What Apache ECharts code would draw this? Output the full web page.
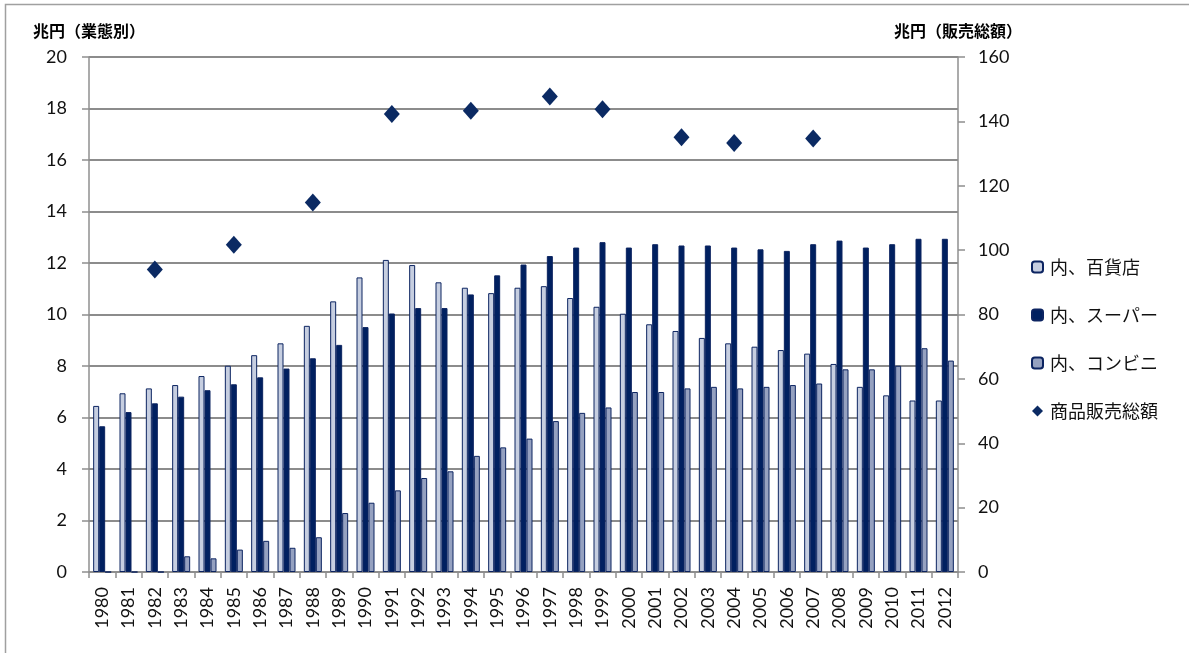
<!DOCTYPE html>
<html>
<head>
<meta charset="utf-8">
<script src="https://cdn.jsdelivr.net/npm/echarts@6/dist/echarts.min.js"></script>
<style>
html,body{margin:0;padding:0;background:#fff;}
#chart{width:1189px;height:653px;}
</style>
</head>
<body>
<div id="chart"></div>
<script>
const years = ['1980','1981','1982','1983','1984','1985','1986','1987','1988','1989','1990','1991','1992','1993','1994','1995','1996','1997','1998','1999','2000','2001','2002','2003','2004','2005','2006','2007','2008','2009','2010','2011','2012'];
const department = [6.45,6.94,7.13,7.26,7.61,8.01,8.42,8.88,9.56,10.51,11.44,12.12,11.92,11.25,11.04,10.83,11.04,11.10,10.64,10.30,10.03,9.62,9.36,9.09,8.88,8.75,8.62,8.48,8.08,7.19,6.86,6.66,6.66];
const supermarket = [5.66,6.21,6.55,6.81,7.06,7.29,7.56,7.90,8.30,8.82,9.51,10.04,10.25,10.25,10.78,11.52,11.94,12.27,12.60,12.81,12.60,12.73,12.68,12.68,12.60,12.53,12.47,12.73,12.87,12.60,12.73,12.94,12.94];
const convenience = [0,0,0,0.61,0.53,0.87,1.21,0.94,1.35,2.29,2.69,3.17,3.65,3.91,4.51,4.84,5.18,5.86,6.18,6.39,6.99,6.99,7.13,7.19,7.13,7.19,7.26,7.32,7.87,7.87,8.01,8.69,8.21];
const totalSales = [null,null,94.0,null,null,101.7,null,null,114.8,null,null,142.3,null,null,143.3,null,null,147.7,null,143.8,null,null,135.1,null,133.3,null,null,134.7,null,null,null,null,null];
const leftTicks = {min:0, max:20, interval:2};
const rightTicks = {min:0, max:160, interval:20};
const seriesNames = ['内、百貨店','内、スーパー','内、コンビニ','商品販売総額'];

const numFont = 'Lato, "Noto Sans CJK JP", sans-serif';
const jpFont = '"Noto Sans CJK JP", sans-serif';
const navy = '#0c2461';
const gray = '#8f8f8f';

const chart = echarts.init(document.getElementById('chart'), null, {renderer:'canvas'});
chart.setOption({
  animation:false,
  backgroundColor:'#fff',
  graphic:[{
    type:'rect', silent:true, z:-1,
    shape:{x:5.5,y:4.5,width:1400,height:900},
    style:{fill:'none',stroke:'#a0a0a0',lineWidth:1.5}
  }],
  grid:{left:89,right:231,top:57,bottom:81,containLabel:false},
  legend:{
    orient:'vertical', left:1026, top:253,
    itemWidth:11, itemHeight:11, itemGap:30,
    textStyle:{fontSize:18,fontFamily:jpFont,color:'#111',padding:[0,0,0,2]},
    data:seriesNames
  },
  xAxis:{
    type:'category', data:years,
    axisLine:{lineStyle:{color:gray,width:1.5}},
    axisTick:{show:true,length:6,lineStyle:{color:gray,width:1.5}},
    axisLabel:{rotate:90,interval:0,margin:15,fontSize:18,fontFamily:numFont,color:'#111'}
  },
  yAxis:[{
    type:'value', min:leftTicks.min, max:leftTicks.max, interval:leftTicks.interval,
    name:'兆円（業態別）', nameLocation:'end', nameGap:18,
    nameTextStyle:{fontSize:16,fontWeight:'bold',fontFamily:jpFont,color:'#000'},
    axisLine:{show:true,lineStyle:{color:gray,width:1.5}},
    axisTick:{show:true,length:7,lineStyle:{color:gray,width:1.5}},
    axisLabel:{margin:22,fontSize:18,fontFamily:numFont,color:'#111'},
    splitLine:{show:true,lineStyle:{color:'#8c8c8c',width:2}}
  },{
    type:'value', min:rightTicks.min, max:rightTicks.max, interval:rightTicks.interval,
    name:'兆円（販売総額）', nameLocation:'end', nameGap:18,
    nameTextStyle:{fontSize:16,fontWeight:'bold',fontFamily:jpFont,color:'#000'},
    axisLine:{show:true,lineStyle:{color:gray,width:1.5}},
    axisTick:{show:true,length:7,lineStyle:{color:gray,width:1.5}},
    axisLabel:{margin:20,fontSize:18,fontFamily:numFont,color:'#111'},
    splitLine:{show:false}
  }],
  series:[{
    name:seriesNames[0], type:'bar', data:department, barWidth:6, barGap:'0%',
    itemStyle:{color:'#c6cee0',borderColor:navy,borderWidth:1}
  },{
    name:seriesNames[1], type:'bar', data:supermarket, barWidth:6, barGap:'0%',
    itemStyle:{color:'#002060',borderColor:navy,borderWidth:1}
  },{
    name:seriesNames[2], type:'bar', data:convenience, barWidth:6, barGap:'0%',
    itemStyle:{color:'#95a1c0',borderColor:navy,borderWidth:1}
  },{
    name:seriesNames[3], type:'scatter', yAxisIndex:1, data:totalSales,
    symbol:'diamond', symbolSize:[16,18], z:5,
    itemStyle:{color:'#0b2a63',opacity:1}
  }]
});
</script>
</body>
</html>
